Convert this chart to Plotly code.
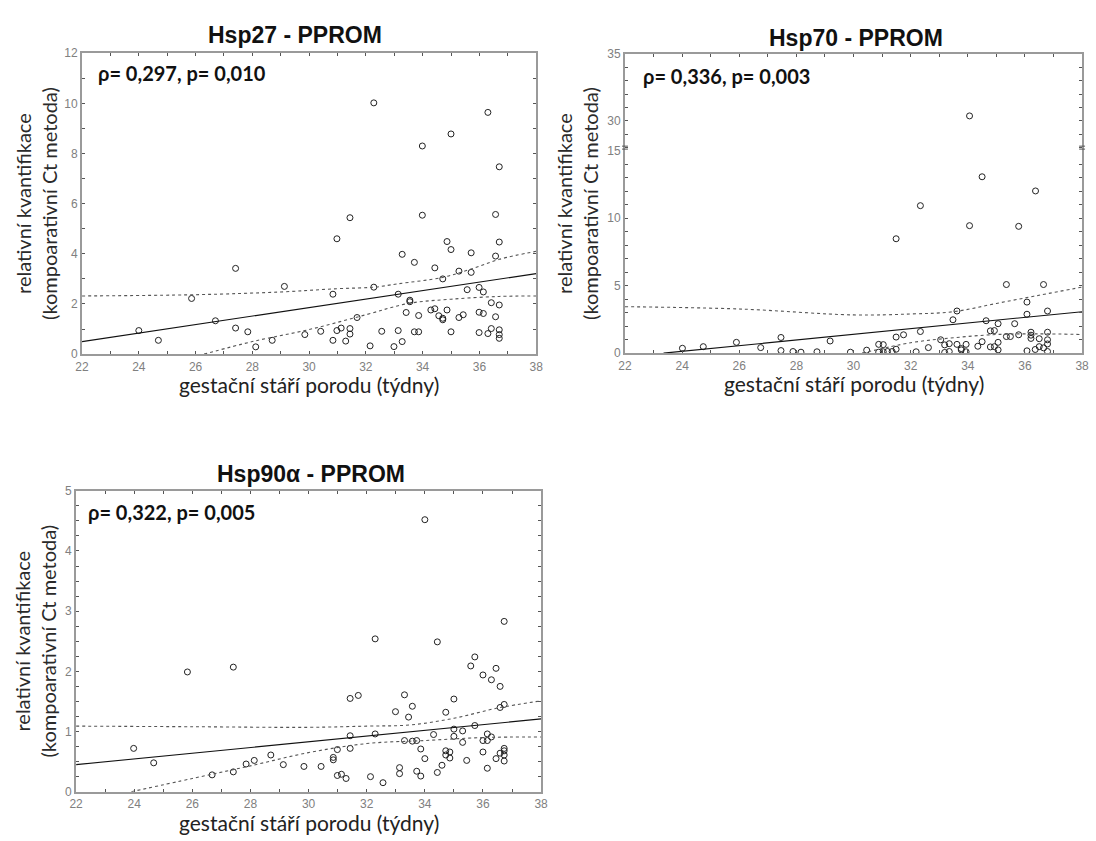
import plotly.graph_objects as go

W, H = 1096, 841

# ---------------- data ----------------
# Hsp27 - PPROM
hsp27_x = [24.0, 24.69, 25.86, 26.70, 27.41, 27.41, 27.84, 28.12, 28.70, 29.13, 29.85, 30.41, 30.84, 30.84,
           30.98, 30.98, 31.13, 31.29, 31.44, 31.44, 31.44, 31.69, 32.15, 32.28, 32.28, 32.56, 32.99, 33.14,
           33.14, 33.28, 33.28, 33.42, 33.55, 33.55, 33.71, 33.71, 33.86, 33.86, 33.99, 33.99, 34.29, 34.43,
           34.43, 34.57, 34.71, 34.71, 34.71, 34.86, 34.86, 35.00, 35.00, 35.00, 35.28, 35.28, 35.43, 35.57,
           35.71, 35.71, 35.99, 35.99, 35.99, 36.14, 36.14, 36.30, 36.30, 36.42, 36.42, 36.57, 36.57, 36.57,
           36.70, 36.70, 36.70, 36.70, 36.70, 36.70]
hsp27_y = [0.94, 0.55, 2.22, 1.33, 3.42, 1.04, 0.89, 0.29, 0.55, 2.70, 0.78, 0.91, 2.39, 0.55,
           4.60, 0.94, 1.04, 0.52, 5.44, 1.02, 0.80, 1.46, 0.33, 10.02, 2.67, 0.91, 0.30, 2.39,
           0.94, 3.98, 0.50, 1.66, 2.15, 2.09, 3.66, 0.89, 1.54, 0.89, 8.30, 5.54, 1.76, 3.44,
           1.81, 1.53, 3.00, 1.43, 1.37, 4.49, 1.76, 8.78, 4.17, 0.89, 3.31, 1.46, 1.57, 2.57,
           4.04, 3.26, 2.66, 1.67, 0.86, 2.48, 1.62, 9.64, 0.82, 2.05, 1.02, 5.57, 3.91, 1.49,
           7.47, 4.47, 1.96, 0.97, 0.78, 0.63]
hsp27_fit_x = [22, 38]
hsp27_fit_y = [0.50, 3.21]
hsp27_up_x = [22, 26, 29, 31, 32.3, 33.1, 34.7, 35.7, 36.7, 38]
hsp27_up_y = [2.32, 2.37, 2.48, 2.61, 2.67, 2.80, 3.06, 3.39, 3.78, 4.10]
hsp27_lo_x = [26.3, 28, 30, 32, 33.5, 35, 36.7, 38]
hsp27_lo_y = [0.0, 0.50, 0.98, 1.57, 2.02, 2.19, 2.30, 2.32]

# Hsp70 - PPROM
hsp70_x = [24.01, 24.74, 25.90, 26.75, 27.46, 27.46, 27.88, 28.16, 28.72, 29.18, 29.89, 30.46, 30.88, 31.04,
           30.88, 31.04, 31.19, 31.35, 31.49, 31.49, 31.75, 31.49, 32.19, 32.34, 32.34, 32.62, 33.05, 33.19,
           33.19, 33.35, 33.35, 33.48, 33.62, 33.62, 33.77, 33.77, 33.94, 33.94, 34.06, 34.06, 34.35, 34.50,
           34.50, 34.64, 34.79, 34.93, 34.79, 34.93, 35.06, 35.06, 35.06, 35.35, 35.35, 35.49, 35.64, 35.78,
           35.78, 36.07, 36.07, 36.07, 36.21, 36.21, 36.21, 36.36, 36.37, 36.50, 36.50, 36.65, 36.65, 36.79,
           36.79, 36.79, 36.79, 36.79]
hsp70_y = [0.36, 0.48, 0.80, 0.41, 1.16, 0.19, 0.12, 0.07, 0.10, 0.90, 0.07, 0.22, 0.65, 0.63,
           0.07, 0.10, 0.12, 0.12, 0.29, 1.19, 1.36, 8.47, 0.10, 10.92, 1.60, 0.41, 0.99, 0.61,
           0.05, 0.70, 0.12, 2.47, 3.12, 0.65, 0.34, 0.24, 0.65, 0.10, 9.44, 30.37, 0.51, 0.85,
           13.06, 2.40, 1.65, 1.67, 0.46, 0.48, 0.80, 0.24, 2.18, 5.08, 1.23, 1.23, 2.18, 9.39,
           1.36, 3.78, 2.88, 0.17, 1.55, 1.33, 1.09, 0.27, 12.01, 1.07, 0.48, 5.08, 0.39, 3.12,
           1.55, 0.99, 0.68, 0.12]
hsp70_fit_x = [23.35, 38]
hsp70_fit_y = [0.0, 3.07]
hsp70_up_x = [22, 26, 30, 32, 33.5, 35, 36.5, 38]
hsp70_up_y = [3.44, 3.27, 2.83, 2.90, 3.07, 3.68, 4.29, 4.89]
hsp70_lo_x = [30.3, 32, 33.5, 35, 36.5, 38]
hsp70_lo_y = [0.0, 0.77, 1.14, 1.38, 1.43, 1.38]

# Hsp90a - PPROM
hsp90_x = [23.98, 24.67, 25.83, 26.68, 27.41, 27.41, 27.85, 28.13, 28.70, 29.13, 29.84, 30.43, 30.85, 30.85,
           30.99, 30.99, 31.13, 31.29, 31.43, 31.43, 31.43, 31.71, 32.13, 32.29, 32.29, 32.56, 32.99, 33.13,
           33.13, 33.30, 33.30, 33.44, 33.57, 33.57, 33.72, 33.72, 33.86, 33.86, 34.00, 34.00, 34.30, 34.43,
           34.43, 34.59, 34.72, 34.72, 34.72, 34.86, 34.86, 35.00, 35.00, 35.00, 35.30, 35.30, 35.44, 35.58,
           35.72, 35.72, 36.00, 36.00, 36.00, 36.15, 36.15, 36.15, 36.29, 36.29, 36.45, 36.45, 36.59, 36.59,
           36.59, 36.73, 36.73, 36.73, 36.73, 36.73, 36.73]
hsp90_y = [0.72, 0.48, 1.99, 0.28, 2.07, 0.33, 0.46, 0.52, 0.61, 0.45, 0.42, 0.42, 0.57, 0.53,
           0.70, 0.27, 0.29, 0.22, 1.55, 0.93, 0.72, 1.60, 0.25, 2.54, 0.96, 0.15, 1.33, 0.40,
           0.30, 1.61, 0.85, 1.24, 1.42, 0.84, 0.85, 0.34, 0.71, 0.26, 4.52, 0.55, 0.95, 2.49,
           0.32, 0.44, 1.32, 0.68, 0.61, 0.66, 0.56, 1.54, 1.04, 0.92, 1.01, 0.82, 0.52, 2.09,
           2.24, 1.10, 1.94, 0.85, 0.66, 0.96, 0.85, 0.39, 0.91, 1.86, 2.05, 0.55, 1.75, 1.40,
           0.64, 2.83, 1.45, 0.72, 0.68, 0.61, 0.51]
hsp90_fit_x = [22, 38]
hsp90_fit_y = [0.45, 1.21]
hsp90_up_x = [22, 26, 30, 32, 33.5, 35, 36.5, 38]
hsp90_up_y = [1.09, 1.08, 1.07, 1.09, 1.11, 1.22, 1.39, 1.51]
hsp90_lo_x = [23.9, 26, 28, 30, 32, 34, 36, 38]
hsp90_lo_y = [0.0, 0.22, 0.43, 0.65, 0.80, 0.85, 0.90, 0.91]

titles = ["Hsp27 - PPROM", "Hsp70 - PPROM", "Hsp90α - PPROM"]
stats = ["ρ= 0,297, p= 0,010", "ρ= 0,336, p= 0,003", "ρ= 0,322, p= 0,005"]
x_title = "gestační stáří porodu (týdny)"
y_title = "relativní kvantifikace<br>(kompoarativní Ct metoda)"
BREAK_LOW, BREAK_HIGH = 15, 27.77

# ---------------- layout helpers (window pixel coords) ----------------
def clamp(v):
    return min(1.0, max(0.0, v))

def fx(px):
    return clamp(px / W)

def fy(py):
    return clamp(1 - py / H)

def px_x(a, b):
    return [fx(a), fx(b)]

def px_y(top, bottom):
    return [fy(bottom), fy(top)]

# panel geometry + text positions (pixels)
P1 = dict(x=px_x(76, 536), y=px_y(47, 353), title=(292, 28), stat=(90, 67), ytr=56)
P2 = dict(x=px_x(626, 1089), y=px_y(48, 352), brk=fy(146), title=(860, 32), stat=(642, 70), ytr=604)
P3 = dict(x=px_x(70, 541), y=px_y(492, 798), title=(308, 475), stat=(80, 514), ytr=56)

TICKFONT = dict(family="Liberation Sans, Arial", size=12, color="#808080")
AXCOL = "#9a9a9a"

def axis(dom, rng, dtick, minor_dtick, mirror="ticks", **kw):
    d = dict(domain=dom, range=rng, dtick=dtick, tick0=0, showgrid=False, zeroline=False,
             showline=True, linecolor=AXCOL, linewidth=2, mirror=mirror,
             ticks="inside", ticklen=3, tickcolor="#555", tickwidth=1,
             minor=dict(dtick=minor_dtick, ticks="inside", ticklen=3, tickcolor="#555", showgrid=False),
             tickfont=TICKFONT)
    d.update(kw)
    return d

fig = go.Figure()

mk = dict(symbol="circle-open", size=6, color="#222", line=dict(width=1, color="#222"))
fitline = dict(color="#111", width=1.1)
ciline = dict(color="#555", width=1.1, dash="dot", shape="spline")

def add_panel(xa, ya, xs, ys, fxs, fys, ux, uy, lx, ly):
    fig.add_trace(go.Scatter(x=xs, y=ys, mode="markers", marker=mk, xaxis=xa, yaxis=ya, showlegend=False))
    fig.add_trace(go.Scatter(x=fxs, y=fys, mode="lines", line=fitline, xaxis=xa, yaxis=ya, showlegend=False))
    fig.add_trace(go.Scatter(x=ux, y=uy, mode="lines", line=ciline, xaxis=xa, yaxis=ya, showlegend=False))
    fig.add_trace(go.Scatter(x=lx, y=ly, mode="lines", line=ciline, xaxis=xa, yaxis=ya, showlegend=False))

add_panel("x", "y", hsp27_x, hsp27_y, hsp27_fit_x, hsp27_fit_y, hsp27_up_x, hsp27_up_y, hsp27_lo_x, hsp27_lo_y)

lo_x = [x for x, y in zip(hsp70_x, hsp70_y) if y <= BREAK_LOW]
lo_y = [y for y in hsp70_y if y <= BREAK_LOW]
hi_x = [x for x, y in zip(hsp70_x, hsp70_y) if y > BREAK_LOW]
hi_y = [y for y in hsp70_y if y > BREAK_LOW]
add_panel("x2", "y2", lo_x, lo_y, hsp70_fit_x, hsp70_fit_y, hsp70_up_x, hsp70_up_y, hsp70_lo_x, hsp70_lo_y)
fig.add_trace(go.Scatter(x=hi_x, y=hi_y, mode="markers", marker=mk, xaxis="x4", yaxis="y4", showlegend=False))

add_panel("x3", "y3", hsp90_x, hsp90_y, hsp90_fit_x, hsp90_fit_y, hsp90_up_x, hsp90_up_y, hsp90_lo_x, hsp90_lo_y)

fig.update_layout(
    width=W, height=H, margin=dict(l=0, r=0, t=0, b=0),
    paper_bgcolor="white", plot_bgcolor="white",
    xaxis=axis(P1["x"], [22, 38], 2, 1, anchor="y"),
    yaxis=axis(P1["y"], [0, 12], 2, 1, anchor="x"),
    xaxis2=axis(P2["x"], [22, 38], 2, 1, mirror=False, anchor="y2"),
    yaxis2=axis([P2["y"][0], P2["brk"]], [0, BREAK_LOW], 5, 1, anchor="x2"),
    xaxis4=axis(P2["x"], [22, 38], 2, 1, mirror=False, anchor="y4", side="top", showticklabels=False),
    yaxis4=axis([P2["brk"], P2["y"][1]], [BREAK_HIGH, 35], 5, 1, anchor="x4", tickvals=[30, 35]),
    xaxis3=axis(P3["x"], [22, 38], 2, 1, anchor="y3"),
    yaxis3=axis(P3["y"], [0, 5], 1, 0.25, anchor="x3"),
)

ann = []
shapes = []
for P, t, s in [(P1, titles[0], stats[0]), (P2, titles[1], stats[1]), (P3, titles[2], stats[2])]:
    x0, x1 = P["x"]
    y0, y1 = P["y"]
    ann.append(dict(text="<b>%s</b>" % t, x=fx(P["title"][0]), y=fy(P["title"][1]), xref="paper", yref="paper",
                    xanchor="center", yanchor="middle", showarrow=False,
                    font=dict(family="Liberation Sans, Arial", size=23, color="#111")))
    ann.append(dict(text="<b>%s</b>" % s, x=fx(P["stat"][0]), y=fy(P["stat"][1]), xref="paper", yref="paper",
                    xanchor="left", yanchor="middle", showarrow=False,
                    font=dict(family="Lato", size=20, color="#111")))
    ann.append(dict(text=x_title, x=(x0 + x1) / 2, y=y0 - 31 / H, xref="paper", yref="paper",
                    xanchor="center", yanchor="middle", showarrow=False,
                    font=dict(family="Lato", size=21, color="#222")))
    ann.append(dict(text=y_title, x=fx(P["ytr"]), y=(y0 + y1) / 2, xref="paper", yref="paper",
                    xanchor="right", yanchor="middle", textangle=-90, showarrow=False,
                    font=dict(family="Lato", size=20, color="#2a2a2a")))

# axis break marks on Hsp70 panel
for xe in P2["x"]:
    for dy in (1.5, 4.5):
        shapes.append(dict(type="line", xref="paper", yref="paper",
                           x0=xe - 3 / W, x1=xe + 3 / W, y0=P2["brk"] + dy / H, y1=P2["brk"] + dy / H,
                           line=dict(color="#555", width=1)))

fig.update_layout(annotations=ann, shapes=shapes)
fig.write_html("out.html",
               config={"displayModeBar": False},
               post_script="document.body.style.margin='0';document.body.style.overflow='hidden';")
